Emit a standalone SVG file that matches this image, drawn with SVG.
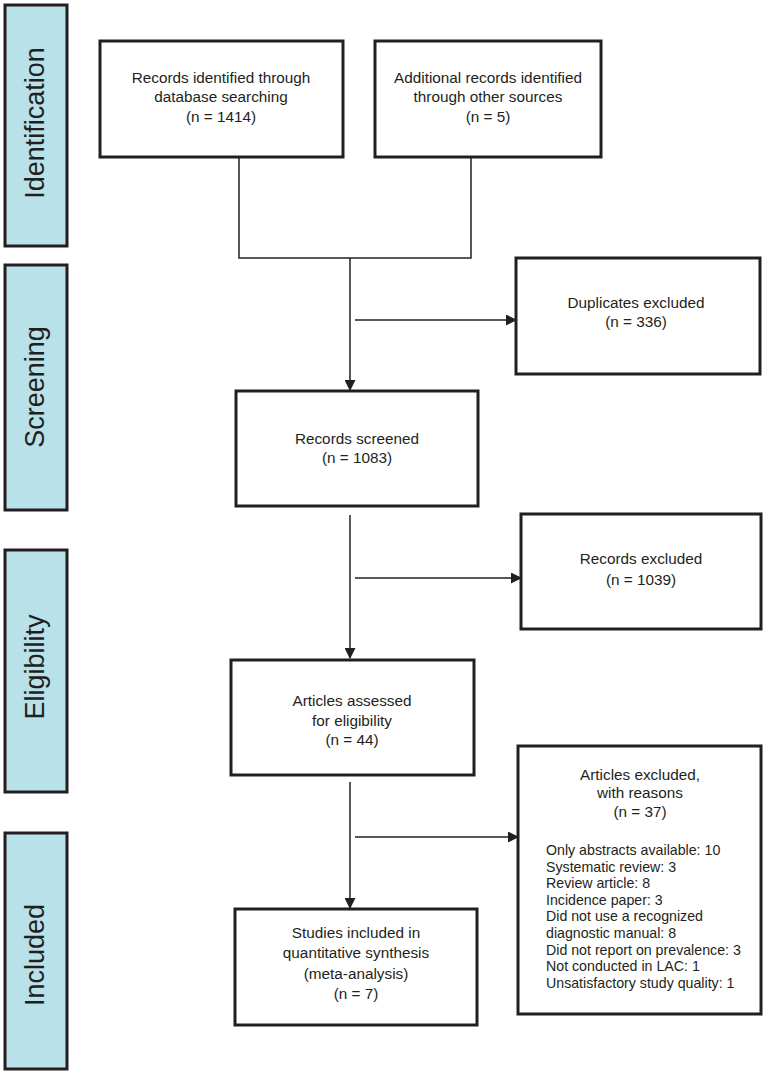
<svg xmlns="http://www.w3.org/2000/svg" width="767" height="1079" viewBox="0 0 767 1079">
<defs>
<style>
.bar{fill:#b9e1e9;stroke:#231f20;stroke-width:3}
.box{fill:#fff;stroke:#231f20;stroke-width:3}
.lbl{font-family:"Liberation Sans",Arial,sans-serif;font-size:27px;fill:#231f20;text-anchor:middle}
.t{font-family:"Liberation Sans",Arial,sans-serif;font-size:15.3px;fill:#231f20;text-anchor:middle}
.l{font-family:"Liberation Sans",Arial,sans-serif;font-size:14.2px;fill:#231f20}
.c{fill:none;stroke:#231f20;stroke-width:1.5}
</style>
<marker id="ah" markerWidth="11" markerHeight="11" refX="10" refY="5.5" orient="auto" markerUnits="userSpaceOnUse">
<path d="M0,0 L11,5.5 L0,11 z" fill="#231f20"/>
</marker>
</defs>
<rect width="767" height="1079" fill="#fff"/>
<g id="phase-identification">
<rect class="bar" x="5" y="5" width="62" height="241"/>
<text class="lbl" transform="translate(44,123) rotate(-90)">Identification</text>
</g>
<g id="phase-screening">
<rect class="bar" x="5" y="265" width="62" height="245"/>
<text class="lbl" transform="translate(44,387) rotate(-90)">Screening</text>
</g>
<g id="phase-eligibility">
<rect class="bar" x="5" y="550" width="62" height="242"/>
<text class="lbl" transform="translate(44,667) rotate(-90)">Eligibility</text>
</g>
<g id="phase-included">
<rect class="bar" x="5" y="833" width="62" height="236"/>
<text class="lbl" transform="translate(44,955) rotate(-90)">Included</text>
</g>
<g id="connectors">
<polyline class="c" points="239,157 239,258 471,258 471,157"/>
<line class="c" x1="350" y1="258" x2="350" y2="390" marker-end="url(#ah)"/>
<line class="c" x1="355" y1="320" x2="516" y2="320" marker-end="url(#ah)"/>
<line class="c" x1="350" y1="515" x2="350" y2="658" marker-end="url(#ah)"/>
<line class="c" x1="355" y1="578" x2="521" y2="578" marker-end="url(#ah)"/>
<line class="c" x1="350" y1="782" x2="350" y2="908" marker-end="url(#ah)"/>
<line class="c" x1="355" y1="837" x2="518" y2="837" marker-end="url(#ah)"/>
</g>
<g id="n-db">
<rect class="box" x="100" y="41" width="243" height="116"/>
<text class="t" x="221" y="83">Records identified through</text>
<text class="t" x="221" y="102">database searching</text>
<text class="t" x="221" y="122">(n = 1414)</text>
</g>
<g id="n-other">
<rect class="box" x="375" y="41" width="226" height="116"/>
<text class="t" x="488" y="83">Additional records identified</text>
<text class="t" x="488" y="102">through other sources</text>
<text class="t" x="488" y="122">(n = 5)</text>
</g>
<g id="n-dup">
<rect class="box" x="516" y="258" width="244" height="116"/>
<text class="t" x="636" y="308">Duplicates excluded</text>
<text class="t" x="636" y="327">(n = 336)</text>
</g>
<g id="n-screened">
<rect class="box" x="236" y="391" width="242" height="115"/>
<text class="t" x="357" y="444">Records screened</text>
<text class="t" x="357" y="463">(n = 1083)</text>
</g>
<g id="n-recexcl">
<rect class="box" x="521" y="514" width="240" height="115"/>
<text class="t" x="641" y="564">Records excluded</text>
<text class="t" x="641" y="585">(n = 1039)</text>
</g>
<g id="n-assessed">
<rect class="box" x="231" y="660" width="243" height="115"/>
<text class="t" x="352" y="706">Articles assessed</text>
<text class="t" x="352" y="726">for eligibility</text>
<text class="t" x="352" y="745">(n = 44)</text>
</g>
<g id="n-artexcl">
<rect class="box" x="518" y="746" width="243" height="268"/>
<text class="t" x="640" y="780">Articles excluded,</text>
<text class="t" x="640" y="798">with reasons</text>
<text class="t" x="640" y="817">(n = 37)</text>
<text class="l" x="546" y="855">Only abstracts available: 10</text>
<text class="l" x="546" y="871.6">Systematic review: 3</text>
<text class="l" x="546" y="888.2">Review article: 8</text>
<text class="l" x="546" y="904.8">Incidence paper: 3</text>
<text class="l" x="546" y="921.4">Did not use a recognized</text>
<text class="l" x="546" y="938">diagnostic manual: 8</text>
<text class="l" x="546" y="954.6">Did not report on prevalence: 3</text>
<text class="l" x="546" y="971.2">Not conducted in LAC: 1</text>
<text class="l" x="546" y="987.8">Unsatisfactory study quality: 1</text>
</g>
<g id="n-included">
<rect class="box" x="235" y="909" width="242" height="116"/>
<text class="t" x="356" y="938">Studies included in</text>
<text class="t" x="356" y="958">quantitative synthesis</text>
<text class="t" x="356" y="979">(meta-analysis)</text>
<text class="t" x="356" y="999">(n = 7)</text>
</g>
</svg>
